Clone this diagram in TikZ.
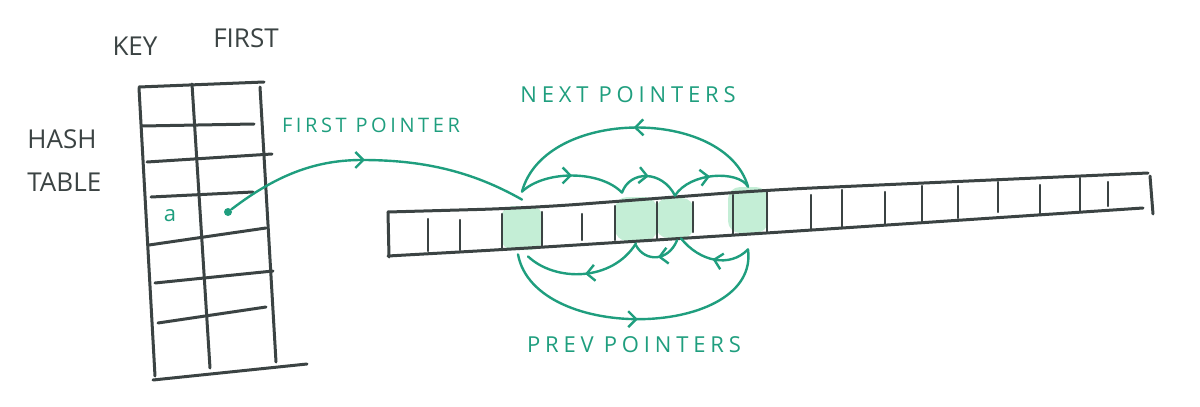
\documentclass[tikz,border=0pt]{standalone}
\usepackage{fontspec}
\setmainfont{Open Sans}
\usetikzlibrary{arrows.meta, decorations.markings, positioning}

\definecolor{penGray}{HTML}{3B4343}
\definecolor{penGreen}{HTML}{1F9E7E}
\definecolor{cellGreen}{HTML}{C4EED6}

\tikzset{
  pen/.style = {draw=penGray, line width=1.5pt, line cap=round, line join=round},
  tick/.style = {draw=penGray, line width=1.1pt, line cap=round},
  ptr/.style = {draw=penGreen, color=penGreen, line width=1.2pt, line cap=round},
  midarrow/.style = {postaction={decorate}, decoration={markings, mark=at position #1 with {\arrow{Straight Barb[length=4pt, width=8pt]}}}},
  midarrow/.default = 0.5,
  hl/.style = {fill=cellGreen, rounded corners=6pt, inner sep=0pt},
  hand/.style = {text=penGray, inner sep=0pt, font=\fontsize{13}{15}\selectfont},
  gtext/.style = {text=penGreen, inner sep=0pt, font=\addfontfeatures{LetterSpace=18}\fontsize{10}{12}\selectfont},
  gbig/.style = {text=penGreen, inner sep=0pt, font=\addfontfeatures{LetterSpace=22}\fontsize{11}{12}\selectfont},
  dot/.style = {circle, fill=penGreen, inner sep=0pt, minimum size=4pt},
}

\begin{document}
\begin{tikzpicture}[x=0.5pt, y=-0.5pt]
    \useasboundingbox (0,0) rectangle (1200,407);

    % titles
    \node[hand] (key) at (135,46) {KEY};
    \node[hand] (first) at (246,38) {FIRST};
    \node[hand, anchor=west] (hash) at (27,139) {HASH};
    \node[hand, anchor=west] (tab) at (27,182) {TABLE};

    % hash table
    \draw[pen] (139,87) -- (264,82);
    \draw[pen] (139,88) -- (155,376);
    \draw[pen] (192,84) -- (210,368);
    \draw[pen] (260,87) -- (276,362);
    \draw[pen] (153,380) -- (307,364);
    \foreach \xa/\ya/\xb/\yb in {142/126/254/124, 147/162/272/154, 151/197/253/192,
                                 149/245/266/228, 155/283/273/271, 158/323/266/307}
        \draw[pen] (\xa,\ya) -- (\xb,\yb);

    \node[text=penGreen, font=\fontsize{11}{12}\selectfont] (akey) at (170,216) {a};
    \node[dot] (ptrdot) at (228,212) {};

    % highlighted cells
    \node[hl, minimum width=21pt, minimum height=22pt] (c1) at (522,228) {};
    \node[hl, minimum width=21pt, minimum height=22pt] (c2) at (636,219) {};
    \node[hl, minimum width=19pt, minimum height=20pt] (c3) at (675,218) {};
    \node[hl, minimum width=20pt, minimum height=23pt] (c4) at (748,210) {};

    % array
    \draw[pen, rounded corners=25pt] (388,212) -- (530,208) -- (767,190) -- (1148,173);
    \draw[pen, rounded corners=25pt] (388,256) -- (513,249) -- (767,233) -- (1143,208);
    \draw[pen] (388,212) -- (389,257);
    \draw[pen] (1150,176) -- (1153,214);
    \foreach \x/\ya/\yb in {428/219/251, 460/220/250, 502/214/248, 542/212/246, 582/214/240,
                            615/206/240, 657/202/240, 693/202/232, 733/195/234, 767/192/233,
                            811/195/230, 842/190/228, 885/192/225, 922/186/221, 958/186/218,
                            998/182/212, 1040/185/214, 1080/178/211, 1108/182/206}
        \draw[tick] (\x,\ya) -- (\x,\yb);

    % first pointer
    \draw[ptr, midarrow=0.47] (ptrdot) .. controls (280,172) and (320,160) .. (362,160)
        .. controls (420,160) and (470,170) .. ([yshift=3pt]c1.north);

    % next pointers
    \draw[ptr, midarrow] (c4.north) .. controls (725,107) and (545,107) .. ([yshift=7pt]c1.north);
    \draw[ptr, midarrow] ([yshift=7pt]c1.north) .. controls (545,170) and (600,170) .. ([xshift=-7pt,yshift=2pt]c2.north);
    \draw[ptr, midarrow] ([xshift=-7pt,yshift=2pt]c2.north) .. controls (630,170) and (662,170) .. ([yshift=1pt]c3.north);
    \draw[ptr, midarrow] ([yshift=1pt]c3.north) .. controls (690,172) and (738,170) .. (c4.north);

    % prev pointers
    \draw[ptr, midarrow] ([xshift=-2pt,yshift=-2pt]c1.south) .. controls (535,345) and (760,338) .. ([yshift=-8pt]c4.south);
    \draw[ptr, midarrow] ([yshift=-1pt]c2.south) .. controls (612,282) and (555,282) .. ([xshift=3pt,yshift=-3pt]c1.south);
    \draw[ptr, midarrow] ([xshift=1pt,yshift=-1pt]c3.south) .. controls (668,262) and (645,262) .. ([yshift=-2pt]c2.south);
    \draw[ptr, midarrow] ([yshift=-8pt]c4.south) .. controls (730,268) and (700,262) .. ([xshift=3pt]c3.south);

    % labels
    \node[gtext] (firstlbl) at (371,125) {FIRST POINTER};
    \node[gbig] (nextlbl) at (628,95) {NEXT\hspace{5pt}POINTERS};
    \node[gbig] (prevlbl) at (634,345) {PREV\hspace{5pt}POINTERS};
\end{tikzpicture}
\end{document}
